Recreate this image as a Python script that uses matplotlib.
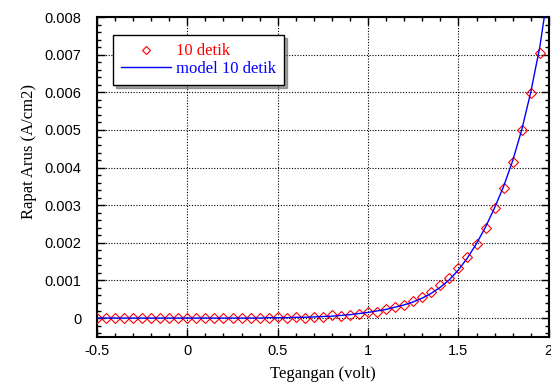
import numpy as np
import matplotlib.pyplot as plt
from matplotlib.ticker import MultipleLocator

# tegangan (V) dan rapat arus (A/cm2) hasil ukur 10 detik
tegangan = [-0.5, -0.45, -0.4, -0.35, -0.3, -0.25, -0.2, -0.15, -0.1, -0.05,
            0.0, 0.05, 0.1, 0.15, 0.2, 0.25, 0.3, 0.35, 0.4, 0.45,
            0.5, 0.55, 0.6, 0.65, 0.7, 0.75, 0.8, 0.85, 0.9, 0.95,
            1.0, 1.05, 1.1, 1.15, 1.2, 1.25, 1.3, 1.35, 1.4, 1.45,
            1.5, 1.55, 1.6, 1.65, 1.7, 1.75, 1.8, 1.85, 1.9, 1.95]
arus_10 = [0.0, 0.0, 0.0, 0.0, 0.0, 0.0, 0.0, 0.0, 0.0, 0.0,
           0.0, 0.0, 0.0, 0.0, 0.0, 0.0, 0.0, 0.0, 0.0, 0.0,
           0.00002, 0.00001, 0.00003, 0.0, 0.00003, 0.00002, 0.00008, 0.00005, 0.00009, 0.00012,
           0.00015, 0.00017, 0.00024, 0.0003, 0.00034, 0.00045, 0.00056, 0.00068, 0.00087, 0.00106,
           0.00133, 0.00161, 0.00196, 0.00239, 0.00293, 0.00347, 0.00416, 0.005, 0.00598, 0.00704]

# kurva model
tegangan_model = tegangan + [2.0]
arus_model = [0.0, 0.0, 0.0, 0.0, 0.0, 0.0, 0.0, 0.0, 0.0, 0.0,
              0.0, 0.0, 0.0, 0.0, 0.0, 0.0, 0.0, 0.0, 0.0, 0.00001,
              0.00001, 0.00001, 0.00002, 0.00002, 0.00003, 0.00004, 0.00005, 0.00007, 0.00009, 0.00012,
              0.00015, 0.00019, 0.00023, 0.00029, 0.00035, 0.00043, 0.00053, 0.00066, 0.00082, 0.00102,
              0.00128, 0.0016, 0.00198, 0.00242, 0.00293, 0.0035, 0.00418, 0.005, 0.006, 0.0072,
              0.0088]

fig = plt.figure(figsize=(5.51, 3.89), dpi=100)
ax = fig.add_axes([0.176, 0.134, 0.82, 0.822])

ax.plot(tegangan, arus_10, 'D', ms=5, mfc='none', mec='red', mew=0.8,
        label='10 detik', zorder=3)
ax.plot(tegangan_model, arus_model, color='blue', lw=1, label='model 10 detik', zorder=4)

ax.set_xlim(-0.5, 2.0)
ax.set_ylim(-0.0005, 0.008)
ax.xaxis.set_minor_locator(MultipleLocator(0.1))
ax.yaxis.set_minor_locator(MultipleLocator(0.0002))
ax.tick_params(which='both', direction='in', top=True, right=True, width=1)
ax.tick_params(which='major', length=6, labelsize=10.5)
ax.tick_params(axis='x', which='major', pad=5)
ax.tick_params(axis='y', which='major', pad=11)
ax.tick_params(which='minor', length=3)
ax.set_yticks([0, 0.001, 0.002, 0.003, 0.004, 0.005, 0.006, 0.007, 0.008])
ax.set_yticklabels(['0', '0.001', '0.002', '0.003', '0.004', '0.005', '0.006', '0.007', '0.008'],
                   family='Liberation Sans')
ax.set_xticks([-0.5, 0, 0.5, 1, 1.5, 2])
ax.set_xticklabels(['-0.5', '0', '0.5', '1', '1.5', '2'], family='Liberation Sans')
for s in ax.spines.values():
    s.set_linewidth(1.5)
ax.grid(True, which='major', color='black', linestyle=(0, (1, 1.5)), linewidth=0.8)

ax.set_xlabel('Tegangan (volt)', family='Liberation Serif', fontsize=12, labelpad=6)
ax.set_ylabel('Rapat Arus (A/cm2)', family='Liberation Serif', fontsize=12)
ax.yaxis.set_label_coords(-0.133, 0.58)

leg = ax.legend(loc='upper left', bbox_to_anchor=(0.035, 0.944), borderaxespad=0,
                numpoints=1, fancybox=False, shadow=True, framealpha=1, edgecolor='black',
                prop={'family': 'Liberation Serif', 'size': 12}, markerscale=0.9,
                handlelength=3, borderpad=0.5, labelspacing=0.1, handletextpad=0.3)
leg.get_frame().set_linewidth(1)
for txt, c in zip(leg.get_texts(), ['red', 'blue']):
    txt.set_color(c)

fig.savefig('out.png', dpi=100)
